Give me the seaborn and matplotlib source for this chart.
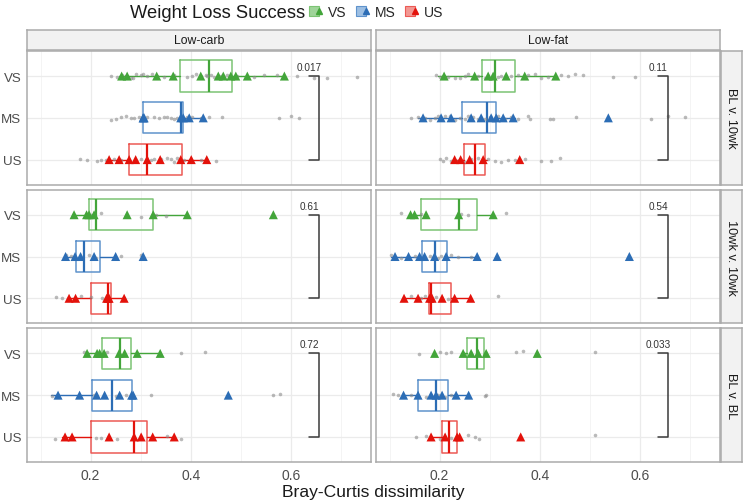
import numpy as np
import pandas as pd
import seaborn as sns
import matplotlib.pyplot as plt
from matplotlib.lines import Line2D
from matplotlib.legend_handler import HandlerTuple

groups = ["VS", "MS", "US"]
diets = ["Low-carb", "Low-fat"]
comparisons = ["BL v. 10wk", "10wk v. 10wk", "BL v. BL"]
pvals = [["0.017", "0.11"], ["0.61", "0.54"], ["0.72", "0.033"]]
tri_colors = {"VS": "#43A53A", "MS": "#2C6DB5", "US": "#E3120B"}
box_colors = {"VS": "#7CC474", "MS": "#5F93CC", "US": "#EC5A55"}
key_fill = {"VS": "#9fd499", "MS": "#9dbfe3", "US": "#f29893"}

# ---- Low-carb, BL v. 10wk
lc_bl10_tri = {
    "VS": [0.262, 0.273, 0.332, 0.365, 0.42, 0.455, 0.465, 0.48, 0.49, 0.513, 0.587],
    "MS": [0.305, 0.305, 0.307, 0.38, 0.385, 0.397, 0.425],
    "US": [0.237, 0.257, 0.277, 0.29, 0.313, 0.339, 0.38, 0.401, 0.432],
}
lc_bl10_gray = {
    "VS": [0.24, 0.252, 0.263, 0.27, 0.28, 0.285, 0.29, 0.3, 0.305, 0.313, 0.323, 0.333,
           0.347, 0.367, 0.393, 0.403, 0.41, 0.42, 0.43, 0.433, 0.44, 0.447, 0.46, 0.473,
           0.493, 0.527, 0.547, 0.573, 0.613, 0.647, 0.673, 0.732],
    "MS": [0.24, 0.25, 0.26, 0.27, 0.28, 0.287, 0.297, 0.313, 0.327, 0.337, 0.347, 0.353,
           0.36, 0.367, 0.373, 0.393, 0.403, 0.42, 0.437, 0.463, 0.577, 0.6, 0.617],
    "US": [0.179, 0.193, 0.213, 0.22, 0.23, 0.247, 0.26, 0.3, 0.32, 0.327, 0.34, 0.353,
           0.36, 0.367, 0.373, 0.387, 0.42, 0.45],
}
lc_bl10_box = {"VS": (0.257, 0.378, 0.437, 0.483, 0.587),
               "MS": (0.305, 0.305, 0.38, 0.385, 0.425),
               "US": (0.233, 0.276, 0.313, 0.382, 0.432)}

# ---- Low-fat, BL v. 10wk
lf_bl10_tri = {
    "VS": [0.209, 0.27, 0.297, 0.307, 0.333, 0.37, 0.432],
    "MS": [0.167, 0.203, 0.223, 0.263, 0.283, 0.303, 0.313, 0.327, 0.347, 0.537],
    "US": [0.23, 0.242, 0.26, 0.287, 0.36],
}
lf_bl10_gray = {
    "VS": [0.193, 0.2, 0.217, 0.23, 0.24, 0.25, 0.257, 0.277, 0.29, 0.317, 0.323, 0.343,
           0.357, 0.377, 0.39, 0.403, 0.417, 0.443, 0.457, 0.47, 0.487, 0.547, 0.59],
    "MS": [0.142, 0.157, 0.17, 0.18, 0.19, 0.197, 0.21, 0.22, 0.23, 0.24, 0.25, 0.257,
           0.267, 0.277, 0.29, 0.3, 0.317, 0.33, 0.343, 0.357, 0.377, 0.38, 0.42, 0.427,
           0.473, 0.623, 0.657, 0.69],
    "US": [0.2, 0.207, 0.213, 0.223, 0.237, 0.25, 0.263, 0.277, 0.297, 0.31, 0.323, 0.337,
           0.35, 0.37, 0.403, 0.423, 0.44],
}
lf_bl10_box = {"VS": (0.197, 0.285, 0.311, 0.351, 0.432),
               "MS": (0.157, 0.245, 0.295, 0.312, 0.35),
               "US": (0.23, 0.248, 0.271, 0.291, 0.295)}

# ---- Low-carb, 10wk v. 10wk
lc_1010_tri = {
    "VS": [0.167, 0.192, 0.197, 0.207, 0.273, 0.325, 0.393, 0.565],
    "MS": [0.15, 0.169, 0.18, 0.207, 0.25, 0.305],
    "US": [0.157, 0.17, 0.232, 0.235, 0.237, 0.267],
}
lc_1010_gray = {
    "VS": [0.2, 0.22, 0.3, 0.33, 0.35],
    "MS": [0.15, 0.16, 0.197, 0.21, 0.26, 0.3],
    "US": [0.13, 0.143, 0.18, 0.2, 0.223, 0.267],
}
lc_1010_box = {"VS": (0.163, 0.197, 0.21, 0.325, 0.393),
               "MS": (0.147, 0.17, 0.187, 0.218, 0.25),
               "US": (0.153, 0.2, 0.235, 0.24, 0.267)}

# ---- Low-fat, 10wk v. 10wk
lf_1010_tri = {
    "VS": [0.142, 0.15, 0.173, 0.238, 0.307],
    "MS": [0.111, 0.138, 0.16, 0.17, 0.19, 0.213, 0.275, 0.315, 0.579],
    "US": [0.129, 0.157, 0.18, 0.185, 0.205, 0.23, 0.262],
}
lf_1010_gray = {
    "VS": [0.122, 0.163, 0.243, 0.257, 0.333],
    "MS": [0.103, 0.123, 0.15, 0.18, 0.197, 0.203, 0.223, 0.237, 0.263, 0.315],
    "US": [0.143, 0.163, 0.17, 0.193, 0.217, 0.317],
}
lf_1010_box = {"VS": (0.14, 0.162, 0.238, 0.275, 0.307),
               "MS": (0.103, 0.165, 0.191, 0.215, 0.275),
               "US": (0.127, 0.178, 0.183, 0.223, 0.262)}

# ---- Low-carb, BL v. BL
lc_blbl_tri = {
    "VS": [0.193, 0.213, 0.218, 0.227, 0.257, 0.268, 0.293, 0.339],
    "MS": [0.135, 0.178, 0.212, 0.228, 0.258, 0.282, 0.285, 0.475],
    "US": [0.149, 0.163, 0.237, 0.287, 0.301, 0.324, 0.367],
}
lc_blbl_gray = {
    "VS": [0.187, 0.233, 0.267, 0.38, 0.428],
    "MS": [0.122, 0.207, 0.25, 0.27, 0.32, 0.565, 0.579],
    "US": [0.129, 0.21, 0.22, 0.253, 0.353, 0.38],
}
lc_blbl_box = {"VS": (0.192, 0.222, 0.259, 0.28, 0.339),
               "MS": (0.12, 0.203, 0.243, 0.283, 0.285),
               "US": (0.143, 0.2, 0.287, 0.313, 0.367)}

# ---- Low-fat, BL v. BL
lf_blbl_tri = {
    "VS": [0.19, 0.247, 0.263, 0.277, 0.293, 0.395],
    "MS": [0.128, 0.157, 0.183, 0.193, 0.205, 0.233, 0.258],
    "US": [0.183, 0.211, 0.235, 0.24, 0.362],
}
lf_blbl_gray = {
    "VS": [0.159, 0.2, 0.213, 0.223, 0.353, 0.367, 0.51],
    "MS": [0.107, 0.117, 0.143, 0.173, 0.197, 0.21, 0.223, 0.29, 0.293],
    "US": [0.153, 0.173, 0.2, 0.223, 0.257, 0.27, 0.278, 0.51],
}
lf_blbl_box = {"VS": (0.247, 0.255, 0.275, 0.289, 0.293),
               "MS": (0.128, 0.157, 0.192, 0.217, 0.258),
               "US": (0.18, 0.205, 0.218, 0.235, 0.24)}

panels = [
    [(lc_bl10_tri, lc_bl10_gray, lc_bl10_box), (lf_bl10_tri, lf_bl10_gray, lf_bl10_box)],
    [(lc_1010_tri, lc_1010_gray, lc_1010_box), (lf_1010_tri, lf_1010_gray, lf_1010_box)],
    [(lc_blbl_tri, lc_blbl_gray, lc_blbl_box), (lf_blbl_tri, lf_blbl_gray, lf_blbl_box)],
]


def long_df(d):
    return pd.DataFrame([(g, v) for g in groups for v in d[g]], columns=["group", "value"])


sns.set_theme(style="white")
plt.rcParams["font.family"] = ["Liberation Sans", "DejaVu Sans"]
np.random.seed(3)

fig, axes = plt.subplots(3, 2, figsize=(7.44, 5.02), dpi=100, sharex=True, sharey=True)
fig.subplots_adjust(left=27 / 744, right=720 / 744, top=1 - 52 / 502, bottom=1 - 463 / 502,
                    wspace=5 / 344, hspace=5 / 133.7)

for r in range(3):
    for c in range(2):
        ax = axes[r, c]
        tri, gray, box = panels[r][c]
        ax.set_axisbelow(True)
        stats = [dict(whislo=box[g][0], q1=box[g][1], med=box[g][2], q3=box[g][3],
                      whishi=box[g][4], fliers=[]) for g in groups]
        art = ax.bxp(stats, positions=[0, 1, 2], orientation="horizontal", widths=0.75,
                     showcaps=False, showfliers=False, patch_artist=False)
        for i, g in enumerate(groups):
            art["boxes"][i].set(color=box_colors[g], linewidth=1.1)
            art["medians"][i].set(color=tri_colors[g], linewidth=1.6)
            art["whiskers"][2 * i].set(color=tri_colors[g], linewidth=1.0)
            art["whiskers"][2 * i + 1].set(color=tri_colors[g], linewidth=1.0)
        sns.stripplot(data=long_df(gray), x="value", y="group", order=groups, orient="h",
                      color="#8c8c8c", size=2.6, alpha=0.6, jitter=0.05, linewidth=0,
                      ax=ax, zorder=3)
        sns.stripplot(data=long_df(tri), x="value", y="group", order=groups, orient="h",
                      hue="group", hue_order=groups, palette=tri_colors, marker="^",
                      size=6.5, jitter=False, linewidth=0, legend=False, ax=ax, zorder=4)
        # significance bracket
        ax.plot([0.637, 0.656, 0.656, 0.637], [0, 0, 2, 2], color="#3a3a3a", lw=1.1, zorder=5)
        ax.text(0.637, -0.1, pvals[r][c], ha="center", va="bottom", fontsize=7.2,
                color="#333333")
        ax.set_xlabel("")
        ax.set_ylabel("")
        ax.set_xticks([0.2, 0.4, 0.6])
        ax.set_xticks([0.1, 0.3, 0.5, 0.7], minor=True)
        ax.grid(True, which="major", color="#ebebeb", linewidth=0.9)
        ax.grid(True, which="minor", axis="x", color="#f2f2f2", linewidth=0.6)
        for s in ax.spines.values():
            s.set_color("#ababab")
            s.set_linewidth(1.1)
        ax.tick_params(axis="both", which="major", length=2.5, width=0.8, color="#333333",
                       labelsize=10, labelcolor="#4d4d4d", pad=1.5)
        ax.tick_params(axis="y", labelsize=9.6)
        ax.tick_params(axis="x", which="minor", length=0)
        if c == 1:
            ax.tick_params(axis="y", length=0)
        if r < 2:
            ax.tick_params(axis="x", length=0)

axes[0, 0].set_xlim(0.073, 0.76)
axes[0, 0].set_ylim(2.6, -0.6)
axes[0, 0].set_yticks([0, 1, 2])
axes[0, 0].set_yticklabels(groups)
axes[2, 0].set_xticklabels(["0.2", "0.4", "0.6"])

# facet strips
for c in range(2):
    p = axes[0, c].get_position()
    sax = fig.add_axes([p.x0, 1 - 51 / 502, p.width, 20 / 502])
    sax.set_facecolor("#f2f2f2")
    sax.set_xticks([])
    sax.set_yticks([])
    for s in sax.spines.values():
        s.set_color("#ababab")
        s.set_linewidth(1.1)
    sax.text(0.5, 0.5, diets[c], ha="center", va="center", fontsize=8.8,
             color="#1a1a1a", transform=sax.transAxes)
for r in range(3):
    p = axes[r, 1].get_position()
    sax = fig.add_axes([721 / 744, p.y0, 21 / 744, p.height])
    sax.set_facecolor("#f2f2f2")
    sax.set_xticks([])
    sax.set_yticks([])
    for s in sax.spines.values():
        s.set_color("#ababab")
        s.set_linewidth(1.1)
    sax.text(0.5, 0.5, comparisons[r], ha="center", va="center", fontsize=9.2,
             rotation=-90, color="#1a1a1a", transform=sax.transAxes)

fig.text(373 / 744, 1 - 493 / 502, "Bray-Curtis dissimilarity", ha="center", va="center",
         fontsize=12.6, color="#1a1a1a")

# legend
fig.text(305 / 744, 1 - 13 / 502, "Weight Loss Success", ha="right", va="center",
         fontsize=13.2, color="#1a1a1a")
handles = [(Line2D([], [], marker="s", ls="", markersize=6.5, markerfacecolor=key_fill[g],
                   markeredgecolor=box_colors[g], markeredgewidth=0.8),
            Line2D([], [], marker="^", ls="", markersize=4, color=tri_colors[g]))
           for g in groups]
fig.legend(handles, groups, ncol=3, loc="center left", bbox_to_anchor=(311 / 744, 1 - 13 / 502),
           frameon=False, fontsize=10, handlelength=0.75, handletextpad=0.45,
           columnspacing=0.85, borderaxespad=0, borderpad=0,
           handler_map={tuple: HandlerTuple(ndivide=None)})

fig.savefig("out.png", dpi=100)
